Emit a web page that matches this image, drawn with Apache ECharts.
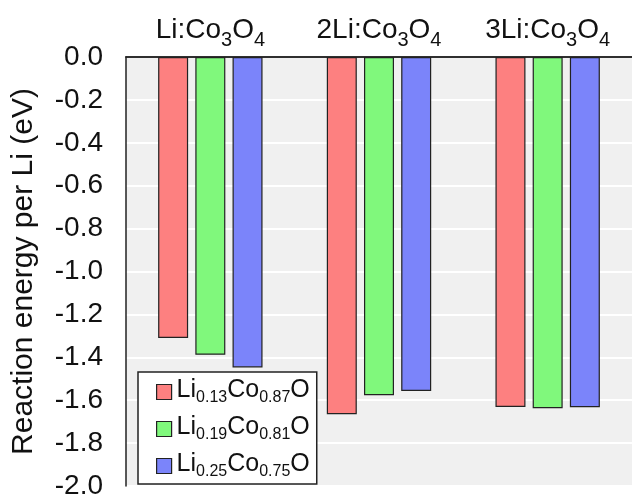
<!DOCTYPE html>
<html><head><meta charset="utf-8">
<script src="https://cdn.jsdelivr.net/npm/echarts@6/dist/echarts.min.js"></script>
<style>html,body{margin:0;padding:0;background:#fff}#c{width:632px;height:500px}</style>
</head><body><div id="c"></div>
<script>
const categories = ['Li:Co3O4', '2Li:Co3O4', '3Li:Co3O4'];
const categoryLabels = ['{a|Li:Co}{s|3}{a|O}{s|4}', '{a|2Li:Co}{s|3}{a|O}{s|4}', '{a|3Li:Co}{s|3}{a|O}{s|4}'];
const seriesNames = ['Li0.13Co0.87O', 'Li0.19Co0.81O', 'Li0.25Co0.75O'];
const seriesLabels = ['{a|Li}{s|0.13}{a|Co}{s|0.87}{a|O}', '{a|Li}{s|0.19}{a|Co}{s|0.81}{a|O}', '{a|Li}{s|0.25}{a|Co}{s|0.75}{a|O}'];
const li013 = [-1.31, -1.665, -1.632];
const li019 = [-1.388, -1.577, -1.637];
const li025 = [-1.447, -1.557, -1.633];
const colors = ['#fd8080', '#80f87c', '#7b84fa'];
const yTicks = { min: -2.0, max: 0.0, interval: 0.2 };

const font = 'Liberation Sans, Arial, Helvetica, sans-serif';
const catRich = {
  a: { fontSize: 28, lineHeight: 34, color: '#111', fontFamily: font, verticalAlign: 'top' },
  s: { fontSize: 20, lineHeight: 20, color: '#111', fontFamily: font, verticalAlign: 'bottom' }
};
const legRich = {
  a: { fontSize: 25, lineHeight: 28, color: '#111', fontFamily: font, verticalAlign: 'top' },
  s: { fontSize: 16, lineHeight: 16, color: '#111', fontFamily: font, verticalAlign: 'bottom' }
};
const chart = echarts.init(document.getElementById('c'), null, { renderer: 'canvas' });
const values = [li013, li019, li025];
const frame = { show: true, lineStyle: { color: '#222', width: 1.5 } };
chart.setOption({
  animation: false,
  textStyle: { fontFamily: font },
  grid: { left: 126, top: 57, width: 516, height: 430, show: true, backgroundColor: '#f0f0f0', borderWidth: 0 },
  legend: {
    orient: 'vertical', left: 138, top: 372,
    data: seriesNames,
    itemWidth: 15, itemHeight: 15, itemGap: 9,
    padding: [6, 7, 4, 18],
    backgroundColor: '#fff', borderColor: '#222', borderWidth: 1.5, borderRadius: 0,
    icon: 'rect',
    itemStyle: { borderColor: '#222', borderWidth: 1.2 },
    formatter: n => seriesLabels[seriesNames.indexOf(n)],
    textStyle: { rich: legRich }
  },
  xAxis: [{
    type: 'category', position: 'top', data: categories, z: 5,
    axisLine: frame, axisTick: { show: false },
    axisLabel: { margin: 7, formatter: (v, i) => categoryLabels[i], rich: catRich },
    splitLine: { show: false }
  }, {
    type: 'category', position: 'bottom', data: categories, z: 5,
    axisLine: frame, axisTick: { show: false }, axisLabel: { show: false }, splitLine: { show: false }
  }],
  yAxis: [{
    type: 'value', min: yTicks.min, max: yTicks.max, interval: yTicks.interval,
    name: 'Reaction energy per Li (eV)', nameLocation: 'middle', nameGap: 87,
    nameTextStyle: { fontSize: 30, color: '#111', fontFamily: font },
    axisLine: { show: false }, axisTick: { show: false },
    axisLabel: { fontSize: 28, color: '#111', margin: 23, formatter: v => v.toFixed(1) },
    splitLine: { show: true, lineStyle: { color: '#ffffff', width: 2 } }
  }, {
    type: 'value', min: yTicks.min, max: yTicks.max, interval: yTicks.interval, position: 'left', z: 5,
    axisLine: frame, axisTick: { show: false }, axisLabel: { show: false }, splitLine: { show: false }
  }],
  series: seriesNames.map((n, i) => ({
    name: n, type: 'bar', data: values[i], barWidth: 30, barGap: '24%',
    itemStyle: { color: colors[i], borderColor: '#222', borderWidth: 1.2 }
  }))
});
</script></body></html>
